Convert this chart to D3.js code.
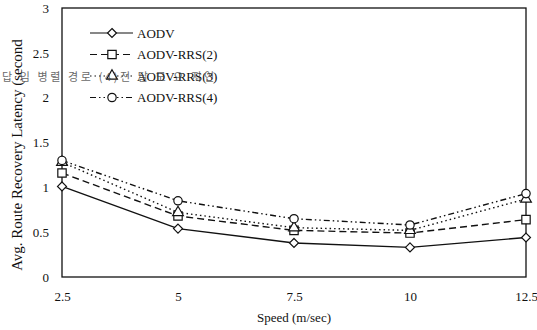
<!DOCTYPE html>
<html>
<head>
<meta charset="utf-8">
<script src="https://cdn.jsdelivr.net/npm/d3@7"></script>
<style>
  body { margin: 0; background: #fff; }
</style>
</head>
<body>
<script>
const speeds = [2.5, 5, 7.5, 10, 12.5];
const aodv = [1.01, 0.54, 0.38, 0.33, 0.44];
const rrs2 = [1.16, 0.68, 0.52, 0.49, 0.64];
const rrs3 = [1.28, 0.72, 0.55, 0.52, 0.87];
const rrs4 = [1.30, 0.85, 0.65, 0.58, 0.93];
const seriesNames = ["AODV", "AODV-RRS(2)", "AODV-RRS(3)", "AODV-RRS(4)"];
const yTicks = [0, 0.5, 1, 1.5, 2, 2.5, 3];

const width = 537;
const height = 330;
const margin = { top: 8, right: 11, bottom: 53, left: 62 };
const serif = "'Liberation Serif', 'Times New Roman', 'DejaVu Serif', serif";

const svg = d3.select("body").append("svg")
  .attr("width", width)
  .attr("height", height);

const x = d3.scaleLinear().domain([2.5, 12.5]).range([margin.left, width - margin.right]);
const y = d3.scaleLinear().domain([0, 3]).range([height - margin.bottom, margin.top]);

// diamond drawn as a rotated square
const diamond = {
  draw(ctx, size) {
    const r = Math.sqrt(size / 2);
    ctx.moveTo(0, -r); ctx.lineTo(r, 0); ctx.lineTo(0, r); ctx.lineTo(-r, 0); ctx.closePath();
  }
};

const series = [
  { name: seriesNames[0], values: aodv, dash: null, symbol: diamond, size: 40 },
  { name: seriesNames[1], values: rrs2, dash: "7,4", symbol: d3.symbolSquare, size: 70 },
  { name: seriesNames[2], values: rrs3, dash: "1.5,3", symbol: d3.symbolTriangle, size: 50 },
  { name: seriesNames[3], values: rrs4, dash: "6,3,1.5,3,1.5,3", symbol: d3.symbolCircle, size: 55 }
];

// frame
svg.append("rect")
  .attr("x", x(2.5)).attr("y", y(3))
  .attr("width", x(12.5) - x(2.5)).attr("height", y(0) - y(3))
  .attr("fill", "none").attr("stroke", "#111").attr("stroke-width", 1.3);

// y axis
const yAxis = svg.append("g")
  .attr("transform", `translate(${margin.left},0)`)
  .call(d3.axisLeft(y).tickValues(yTicks).tickSize(0).tickPadding(13).tickFormat(d3.format("")));
yAxis.select(".domain").remove();
yAxis.selectAll("text").style("font-size", "13px").style("font-family", serif).style("fill", "#111");

// x axis
const xAxis = svg.append("g")
  .attr("transform", `translate(0,${height - margin.bottom})`)
  .call(d3.axisBottom(x).tickValues(speeds).tickSize(0).tickPadding(15).tickFormat(d3.format("")));
xAxis.select(".domain").remove();
xAxis.selectAll("text").style("font-size", "13px").style("font-family", serif).style("fill", "#111");

svg.append("text")
  .attr("x", (x(2.5) + x(12.5)) / 2)
  .attr("y", 322)
  .attr("text-anchor", "middle")
  .style("font-family", serif)
  .style("font-size", "13px")
  .style("fill", "#111")
  .text("Speed (m/sec)");

svg.append("text")
  .attr("transform", "translate(22,155) rotate(-90)")
  .attr("text-anchor", "middle")
  .style("font-family", serif)
  .style("font-size", "15px")
  .style("fill", "#111")
  .text("Avg. Route Recovery Latency (second");

// lines + markers
const line = d3.line()
  .x((d, i) => x(speeds[i]))
  .y(d => y(d));

series.forEach(s => {
  svg.append("path")
    .datum(s.values)
    .attr("d", line)
    .attr("fill", "none")
    .attr("stroke", "#111")
    .attr("stroke-width", 1.4)
    .attr("stroke-dasharray", s.dash);
});

series.forEach(s => {
  svg.selectAll(null)
    .data(s.values)
    .enter().append("path")
    .attr("transform", (d, i) => `translate(${x(speeds[i])},${y(d)})`)
    .attr("d", d3.symbol().type(s.symbol).size(s.size))
    .attr("fill", "#fff")
    .attr("stroke", "#111")
    .attr("stroke-width", 1.2);
});

// legend
const legend = svg.append("g");
series.forEach((s, i) => {
  const ly = 33 + i * 21.5;
  legend.append("line")
    .attr("x1", 90).attr("x2", 133).attr("y1", ly).attr("y2", ly)
    .attr("stroke", "#111").attr("stroke-width", 1.2)
    .attr("stroke-dasharray", s.dash);
  legend.append("path")
    .attr("transform", `translate(112,${ly})`)
    .attr("d", d3.symbol().type(s.symbol).size(s.size))
    .attr("fill", "#fff").attr("stroke", "#111").attr("stroke-width", 1.2);
  legend.append("text")
    .attr("x", 137).attr("y", ly + 4.5)
    .style("font-family", serif)
    .style("font-size", "13px")
    .style("fill", "#111")
    .text(s.name);
});

// faint overprinted caption from the scan
svg.append("text")
  .attr("x", 2).attr("y", 81)
  .attr("textLength", 212)
  .style("font-family", "'Noto Sans CJK KR', sans-serif")
  .style("font-size", "11px")
  .style("fill", "#444")
  .attr("opacity", 0.8)
  .text("답 임 병렬 경로 (4)전 달 모 요 지연");
</script>
</body>
</html>
